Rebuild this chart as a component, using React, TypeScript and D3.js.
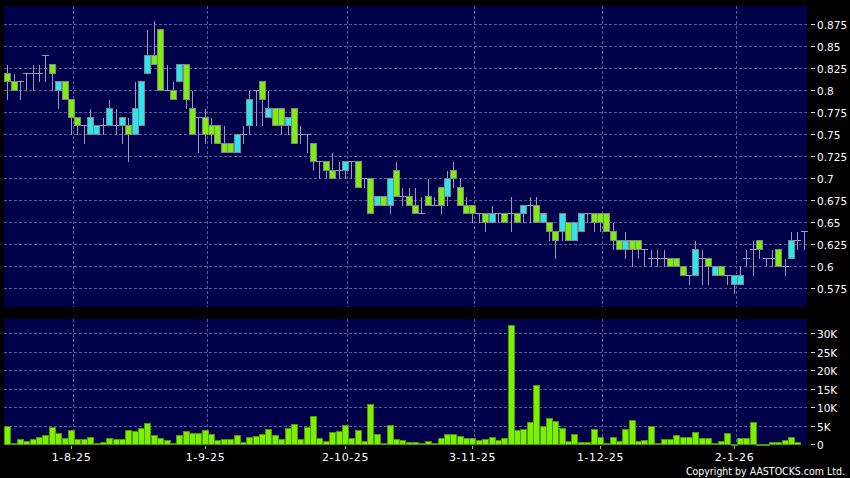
import React from "react";
import * as d3 from "d3";

// Trading days (HK), 18 Jul 2025 - 19 Jan 2026
const dates = [
  "2025-07-18","2025-07-21","2025-07-22","2025-07-23","2025-07-24","2025-07-25","2025-07-28","2025-07-29","2025-07-30","2025-07-31",
  "2025-08-01","2025-08-04","2025-08-05","2025-08-06","2025-08-07","2025-08-08","2025-08-11","2025-08-12","2025-08-13","2025-08-14","2025-08-15",
  "2025-08-18","2025-08-19","2025-08-20","2025-08-21","2025-08-22","2025-08-25","2025-08-26","2025-08-27","2025-08-28","2025-08-29",
  "2025-09-01","2025-09-02","2025-09-03","2025-09-04","2025-09-05","2025-09-08","2025-09-09","2025-09-10","2025-09-11","2025-09-12",
  "2025-09-15","2025-09-16","2025-09-17","2025-09-18","2025-09-19","2025-09-22","2025-09-23","2025-09-24","2025-09-25","2025-09-26",
  "2025-09-29","2025-09-30",
  "2025-10-02","2025-10-03","2025-10-06","2025-10-08","2025-10-09","2025-10-10","2025-10-13","2025-10-14","2025-10-15","2025-10-16","2025-10-17",
  "2025-10-20","2025-10-21","2025-10-22","2025-10-23","2025-10-24","2025-10-27","2025-10-28","2025-10-30","2025-10-31",
  "2025-11-03","2025-11-04","2025-11-05","2025-11-06","2025-11-07","2025-11-10","2025-11-11","2025-11-12","2025-11-13","2025-11-14",
  "2025-11-17","2025-11-18","2025-11-19","2025-11-20","2025-11-21","2025-11-24","2025-11-25","2025-11-26","2025-11-27","2025-11-28",
  "2025-12-01","2025-12-02","2025-12-03","2025-12-04","2025-12-05","2025-12-08","2025-12-09","2025-12-10","2025-12-11","2025-12-12",
  "2025-12-15","2025-12-16","2025-12-17","2025-12-18","2025-12-19","2025-12-22","2025-12-23","2025-12-24","2025-12-29","2025-12-30","2025-12-31",
  "2026-01-02","2026-01-05","2026-01-06","2026-01-07","2026-01-08","2026-01-09","2026-01-12","2026-01-13","2026-01-14","2026-01-15","2026-01-16",
  "2026-01-19",
];

const opens = [
  0.82,0.81,0.81,0.82,0.82,0.82,0.84,0.83,0.80,0.81,
  0.79,0.77,0.76,0.75,0.75,0.76,0.76,0.76,0.76,0.76,0.75,
  0.76,0.82,0.84,0.87,0.80,0.80,0.81,0.83,0.78,0.77,
  0.77,0.76,0.76,0.74,0.74,0.73,0.75,0.76,0.80,0.81,
  0.77,0.78,0.78,0.76,0.78,0.75,0.75,0.74,0.72,0.72,
  0.71,0.71,
  0.71,0.72,0.72,0.70,0.70,0.67,0.68,0.67,0.71,0.68,0.68,
  0.67,0.66,0.68,0.67,0.69,0.68,0.71,0.69,0.67,
  0.67,0.66,0.66,0.65,0.66,0.66,0.66,0.66,0.66,0.67,
  0.67,0.65,0.65,0.64,0.64,0.65,0.63,0.64,0.66,0.66,
  0.66,0.66,0.64,0.63,0.62,0.63,0.63,0.62,0.61,0.61,
  0.61,0.61,0.61,0.60,0.59,0.59,0.61,0.61,0.59,0.60,0.59,
  0.58,0.58,0.61,0.62,0.63,0.61,0.61,0.62,0.60,0.61,0.63,
  0.64,
];
const highs = [
  0.83,0.82,0.81,0.82,0.83,0.83,0.84,0.83,0.81,0.81,
  0.79,0.77,0.76,0.78,0.76,0.77,0.79,0.78,0.77,0.77,0.81,
  0.81,0.87,0.88,0.87,0.83,0.81,0.83,0.83,0.80,0.77,
  0.78,0.77,0.76,0.76,0.74,0.75,0.76,0.80,0.80,0.81,
  0.80,0.78,0.78,0.77,0.78,0.76,0.75,0.74,0.72,0.72,
  0.73,0.72,
  0.72,0.72,0.72,0.70,0.70,0.68,0.68,0.70,0.72,0.69,0.69,
  0.69,0.68,0.70,0.68,0.69,0.71,0.72,0.70,0.68,
  0.67,0.66,0.66,0.67,0.66,0.66,0.68,0.66,0.67,0.68,
  0.68,0.66,0.65,0.64,0.66,0.65,0.65,0.66,0.66,0.66,
  0.66,0.66,0.65,0.63,0.64,0.63,0.63,0.62,0.62,0.62,
  0.62,0.61,0.61,0.60,0.59,0.63,0.62,0.61,0.60,0.60,0.59,
  0.59,0.60,0.62,0.63,0.63,0.61,0.62,0.62,0.61,0.64,0.64,
  0.64,
];
const lows = [
  0.79,0.80,0.79,0.80,0.80,0.81,0.81,0.80,0.78,0.79,
  0.75,0.75,0.74,0.75,0.75,0.75,0.76,0.75,0.74,0.72,0.75,
  0.76,0.82,0.83,0.80,0.80,0.79,0.81,0.78,0.75,0.73,
  0.74,0.74,0.74,0.73,0.73,0.73,0.74,0.75,0.76,0.76,
  0.77,0.76,0.75,0.75,0.74,0.74,0.73,0.71,0.70,0.70,
  0.70,0.70,
  0.70,0.70,0.69,0.69,0.66,0.67,0.67,0.66,0.68,0.67,0.67,
  0.66,0.66,0.67,0.67,0.66,0.67,0.69,0.67,0.66,
  0.65,0.65,0.64,0.65,0.65,0.65,0.64,0.65,0.65,0.65,
  0.65,0.65,0.63,0.61,0.63,0.63,0.63,0.64,0.65,0.64,
  0.64,0.64,0.62,0.62,0.61,0.60,0.61,0.60,0.60,0.60,
  0.60,0.60,0.60,0.59,0.58,0.59,0.58,0.58,0.59,0.59,0.58,
  0.57,0.58,0.60,0.59,0.61,0.60,0.60,0.60,0.59,0.61,0.62,
  0.62,
];
const closes = [
  0.81,0.80,0.81,0.82,0.82,0.82,0.84,0.82,0.81,0.79,
  0.77,0.76,0.76,0.77,0.76,0.76,0.78,0.76,0.77,0.75,0.78,
  0.81,0.84,0.83,0.80,0.80,0.79,0.83,0.79,0.75,0.77,
  0.75,0.75,0.74,0.73,0.73,0.75,0.75,0.79,0.80,0.79,
  0.78,0.76,0.76,0.77,0.74,0.75,0.75,0.72,0.72,0.71,
  0.70,0.71,
  0.72,0.72,0.69,0.70,0.66,0.68,0.67,0.70,0.68,0.68,0.67,
  0.66,0.66,0.67,0.67,0.67,0.70,0.70,0.67,0.66,
  0.66,0.66,0.65,0.66,0.66,0.65,0.66,0.65,0.67,0.67,
  0.65,0.66,0.64,0.63,0.66,0.63,0.65,0.66,0.66,0.65,
  0.65,0.64,0.63,0.62,0.63,0.62,0.62,0.62,0.61,0.61,
  0.61,0.60,0.60,0.59,0.59,0.62,0.61,0.60,0.60,0.59,0.59,
  0.59,0.59,0.61,0.62,0.62,0.61,0.61,0.60,0.60,0.63,0.63,
  0.64,
];
const volumes = [
  5000,200,1400,900,1400,2000,2500,4500,3100,1500,
  3900,1300,1400,1800,400,500,1700,1300,1300,3700,3600,
  4200,5600,2300,1700,1000,300,2500,3400,3000,3000,
  3800,2600,1200,1400,1400,2300,500,1800,2200,2800,
  4100,2500,1400,4200,5300,1400,4500,7500,1600,900,
  3300,3400,
  5100,1700,3900,800,10900,2600,400,5100,1400,1100,600,
  500,400,900,200,1600,2600,2700,2100,1600,
  1600,1100,1400,2000,1100,1500,32200,3900,4100,6000,
  15900,5000,7100,6100,4300,700,2700,500,500,4000,
  2000,400,2000,900,4000,6500,800,1100,5000,300,
  1400,1400,2400,2000,1800,3200,1500,1500,400,800,2900,
  100,1500,1500,5900,100,100,500,600,1200,2000,500,
  0,
];

const tickDates = ["2025-08-01","2025-09-01","2025-10-02","2025-11-03","2025-12-01","2026-01-02"];
const tickLabels = ["1-8-25","1-9-25","2-10-25","3-11-25","1-12-25","2-1-26"];
const priceTicks = [0.575,0.6,0.625,0.65,0.675,0.7,0.725,0.75,0.775,0.8,0.825,0.85,0.875];
const priceTickLabels = ["0.575","0.6","0.625","0.65","0.675","0.7","0.725","0.75","0.775","0.8","0.825","0.85","0.875"];
const volTicks = [0,5000,10000,15000,20000,25000,30000];
const volTickLabels = ["0","5K","10K","15K","20K","25K","30K"];

const W = 850, H = 478;
const L = 4, R = 807;
const PT = 6, PB = 307;
const VT = 319, VB = 445;

const BG = "#00004a";
const GRID = "#5a5a96";
const WICK = "#9a9ab8";
const UP = "#30e4ee";
const DOWN = "#7eee0a";
const OUT = "#7a8a86";
const FONT = "'DejaVu Sans', Verdana, sans-serif";

export default function App() {
  const x = d3.scaleBand<string>().domain(dates).range([L, R]).padding(0);
  const bw = x.bandwidth();
  const y = d3.scaleLinear().domain([0.575, 0.875]).range([288.3, 24.3]);
  const yv = d3.scaleLinear().domain([0, 30000]).range([444, 333]);
  const cx = (d: string) => Math.round((x(d) as number) + bw / 2) + 0.5;
  const gx = (d: string) => Math.round((x(d) as number) + bw / 2 + 2) + 0.5;
  const ry = (v: number) => Math.round(y(v)) + 0.5;

  return (
    <svg width={W} height={H} style={{ position: "absolute", left: 0, top: 0, background: "#000" }}
      shapeRendering="crispEdges">
      <rect x={0} y={0} width={W} height={H} fill="#000" />
      <rect x={L} y={PT} width={R - L} height={PB - PT} fill={BG} />
      <rect x={L} y={VT} width={R - L} height={VB - VT} fill={BG} />

      {/* price grid */}
      {priceTicks.map((t) => (
        <line key={"pg" + t} x1={L} x2={R} y1={ry(t)} y2={ry(t)} stroke={GRID} strokeDasharray="3,2" />
      ))}
      {volTicks.filter((t) => t > 0).map((t) => (
        <line key={"vg" + t} x1={L} x2={R} y1={Math.round(yv(t)) + 0.5} y2={Math.round(yv(t)) + 0.5} stroke={GRID} strokeDasharray="3,2" />
      ))}
      {tickDates.map((d) => (
        <g key={"vx" + d}>
          <line x1={gx(d)} x2={gx(d)} y1={PT} y2={PB} stroke={GRID} strokeDasharray="3,2" />
          <line x1={gx(d)} x2={gx(d)} y1={VT} y2={VB} stroke={GRID} strokeDasharray="3,2" />
        </g>
      ))}

      {/* candles */}
      {dates.map((d, i) => {
        const c = cx(d);
        const o = opens[i], cl = closes[i];
        const hiY = ry(highs[i]), loY = ry(lows[i]);
        const wick = <line x1={c} x2={c} y1={hiY} y2={loY} stroke={WICK} />;
        if (o === cl) {
          return (
            <g key={"c" + i}>
              {wick}
              <line x1={c - 3.5} x2={c + 3.5} y1={ry(o)} y2={ry(o)} stroke={WICK} />
            </g>
          );
        }
        const top = ry(Math.max(o, cl)), bot = ry(Math.min(o, cl));
        return (
          <g key={"c" + i}>
            {wick}
            <rect x={c - 3} y={top} width={6} height={bot - top} fill={cl > o ? UP : DOWN} stroke={OUT} />
          </g>
        );
      })}

      {/* volume bars */}
      {dates.map((d, i) => {
        if (volumes[i] <= 0) return null;
        const c = cx(d);
        const top = Math.round(yv(volumes[i])) + 0.5;
        return (
          <rect key={"v" + i} x={c - 3} y={top} width={6} height={Math.max(0.5, 444.5 - top)}
            fill="#7cf000" stroke="#4a9a00" />
        );
      })}

      {/* right axis labels */}
      {priceTicks.map((t, i) => (
        <g key={"pl" + t}>
          <line x1={811} x2={815} y1={ry(t)} y2={ry(t)} stroke="#ddd" />
          <text x={817} y={ry(t) + 4} fill="#fff" fontSize={10.5} fontFamily={FONT}>{priceTickLabels[i]}</text>
        </g>
      ))}
      {volTicks.map((t, i) => (
        <g key={"vl" + t}>
          <line x1={811} x2={815} y1={Math.round(yv(t)) + 0.5} y2={Math.round(yv(t)) + 0.5} stroke="#ddd" />
          <text x={817} y={Math.round(yv(t)) + 4.5} fill="#fff" fontSize={10.5} fontFamily={FONT}>{volTickLabels[i]}</text>
        </g>
      ))}

      {/* x axis */}
      {tickDates.map((d, i) => (
        <g key={"xl" + d}>
          <line x1={gx(d) - 2} x2={gx(d) - 2} y1={446} y2={449} stroke="#aaa" />
          <text x={gx(d) - 2} y={461} fill="#fff" fontSize={11} fontFamily={FONT} textAnchor="middle" letterSpacing={0.6}>{tickLabels[i]}</text>
        </g>
      ))}

      <text x={845} y={474.5} fill="#fff" fontSize={10.5} fontFamily="'DejaVu Sans Condensed', 'DejaVu Sans', sans-serif" textAnchor="end">Copyright by AASTOCKS.com Ltd.</text>
    </svg>
  );
}
